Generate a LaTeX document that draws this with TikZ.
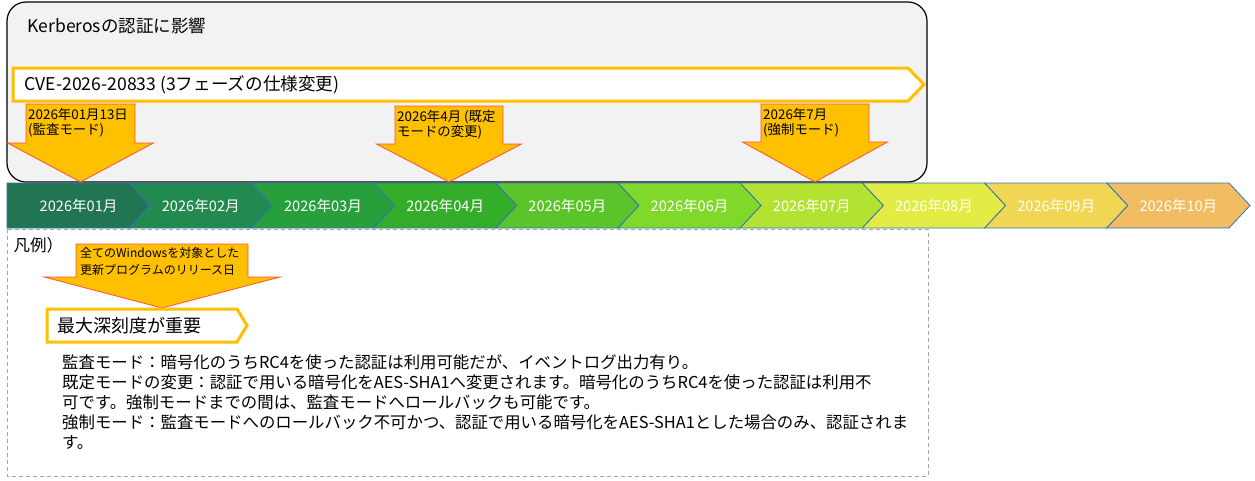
\documentclass[tikz,border=0pt]{standalone}
\usepackage{fontspec}
\setmainfont{Noto Sans CJK JP}
\usetikzlibrary{shapes}

\definecolor{panelgray}{HTML}{F2F2F2}
\definecolor{bannerline}{HTML}{FFC000}
\definecolor{dropfill}{HTML}{FFC000}
\definecolor{dropline}{HTML}{FF5040}
\definecolor{chevline}{HTML}{2E75B6}
\definecolor{m01}{HTML}{227552}
\definecolor{m02}{HTML}{238A4F}
\definecolor{m03}{HTML}{27A03B}
\definecolor{m04}{HTML}{33AD2A}
\definecolor{m05}{HTML}{5AC42A}
\definecolor{m06}{HTML}{80D82A}
\definecolor{m07}{HTML}{B3E233}
\definecolor{m08}{HTML}{E2EC44}
\definecolor{m09}{HTML}{F0D652}
\definecolor{m10}{HTML}{F2BC62}

\begin{document}
\begin{tikzpicture}[x=1pt, y=-1pt,
    banner/.style={draw=bannerline, fill=white, line width=3pt},
    drop/.style={draw=dropline, fill=dropfill, line width=0.8pt},
    droptext/.style={anchor=north west, inner sep=0pt, align=left,
      font=\fontsize{13.4}{15}\selectfont},
    monthtext/.style={text=white, font=\fontsize{14.6}{16}\selectfont}]

  \useasboundingbox (0,0) rectangle (1255,480);

  \newcommand\W{122.2};
  \newcommand\D{21};
  %% down arrow: box left, box right, top, neck, head half width, tip
  \newcommand\dropmark[6]{%
    \draw[drop] (#1,#3) -- (#2,#3) -- (#2,#4) -- ({(#1+#2)/2+#5},#4)
      -- ({(#1+#2)/2},#6) -- ({(#1+#2)/2-#5},#4) -- (#1,#4) -- cycle;}

  %% upper panel
  \draw[fill=panelgray, rounded corners=19pt, line width=1.2pt] (7,2) rectangle (927,182);
  \node[anchor=west, font=\fontsize{17.5}{20}\selectfont] (title) at (24,26) {Kerberosの認証に影響};

  \draw[banner] (13,68) -- (908,68) -- (924,84.5) -- (908,101) -- (13,101) -- cycle;
  \node[anchor=west, font=\fontsize{17.6}{20}\selectfont] (cve) at (21,85) {CVE-2026-20833 (3フェーズの仕様変更)};

  %% month chevrons
  \foreach \m [count=\i from 0] in {01,02,03,04,05,06,07,08,09,10} {
    \pgfmathsetmacro\L{7+\i*\W}
    \pgfmathsetmacro\n{ifthenelse(\i==0,0,\D)}
    \draw[fill=m\m, draw=chevline, line width=0.8pt]
      (\L,183) -- ++(\W,0) -- ++(\D,22.5) -- ++(-\D,22.5) -- ++(-\W,0) -- ++(\n,-22.5) -- cycle;
    \node[monthtext] (month\m) at (\L+\W/2+\D/2,205.5) {2026年\m{}月};
  }

  %% release dates
  \dropmark{26}{135}{104}{143}{73}{182}
  \node[droptext] (audit) at (28,108) {2026年01月13日\\(監査モード)};
  \dropmark{395}{503}{106}{144}{72.5}{182}
  \node[droptext] (default) at (397,110) {2026年4月 (既定\\モードの変更)};
  \dropmark{761}{869}{104}{142}{72.5}{182}
  \node[droptext] (enforce) at (763,108) {2026年7月\\(強制モード)};

  %% legend
  \draw[draw=gray!70, dashed, dash pattern=on 4pt off 3pt, line width=0.8pt] (7,229) rectangle (928,476);
  \node[anchor=west, font=\fontsize{16.5}{18}\selectfont] (legend) at (10,245) {凡例）};

  \dropmark{76}{248}{244}{277}{118}{308}
  \node[droptext, font=\fontsize{12}{17}\selectfont] (release) at (80,247)
    {全てのWindowsを対象とした\\更新プログラムのリリース日};

  \draw[banner] (47,309) -- (237,309) -- (247,325.5) -- (237,342) -- (47,342) -- cycle;
  \node[anchor=west, font=\fontsize{18}{20}\selectfont] (severity) at (54,325.5) {最大深刻度が重要};

  \foreach \t [count=\i] in {
      {監査モード：暗号化のうちRC4を使った認証は利用可能だが、イベントログ出力有り。},
      {既定モードの変更：認証で用いる暗号化をAES-SHA1へ変更されます。暗号化のうちRC4を使った認証は利用不},
      {可です。強制モードまでの間は、監査モードへロールバックも可能です。},
      {強制モード：監査モードへのロールバック不可かつ、認証で用いる暗号化をAES-SHA1とした場合のみ、認証されま},
      {す。}}
    \node[anchor=base west, inner sep=0pt, font=\fontsize{16.4}{20}\selectfont] (note\i) at (62,348+20*\i) {\t};
\end{tikzpicture}
\end{document}
